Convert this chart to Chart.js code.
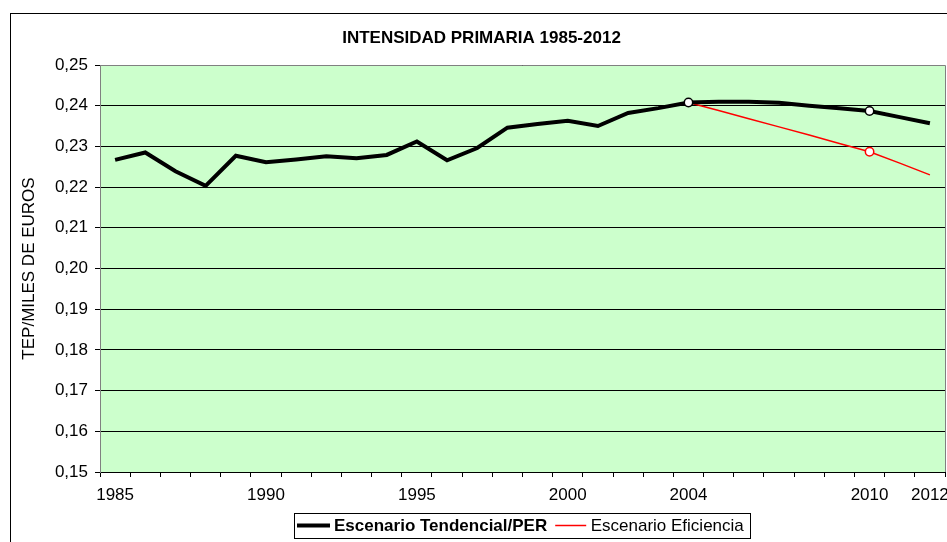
<!DOCTYPE html>
<html>
<head>
<meta charset="utf-8">
<title>Intensidad primaria 1985-2012</title>
<script src="https://cdn.jsdelivr.net/npm/chart.js@4.4.1/dist/chart.umd.min.js"></script>
<style>
  html, body { margin: 0; padding: 0; background: #fff; }
  #chart { display: block; }
</style>
</head>
<body>
<canvas id="chart" width="947" height="542"></canvas>
<script>
/* ---- data ---- */
var years = ["1985", "1986", "1987", "1988", "1989", "1990", "1991", "1992", "1993", "1994",
             "1995", "1996", "1997", "1998", "1999", "2000", "2001", "2002", "2003", "2004",
             "2005", "2006", "2007", "2008", "2009", "2010", "2011", "2012"];
var shownYears = ["1985", "1990", "1995", "2000", "2004", "2010", "2012"];

var tendencial = [0.2267, 0.2285, 0.2239, 0.2203, 0.2277, 0.2261, 0.2268, 0.2276, 0.2271, 0.2279,
                  0.2312, 0.2266, 0.2296, 0.2346, 0.2355, 0.2363, 0.2350, 0.2382, 0.2394, 0.2408,
                  0.2410, 0.2410, 0.2407, 0.2400, 0.2394, 0.2387, 0.2372, 0.2357];
var eficiencia = [null, null, null, null, null, null, null, null, null, null,
                  null, null, null, null, null, null, null, null, null, 0.2408,
                  0.2388, 0.2368, 0.2348, 0.2328, 0.2307, 0.2287, 0.2259, 0.2230];

var tendencialMarks = ["2004", "2010"];
var eficienciaMarks = ["2010"];

var yMin = 0.15, yMax = 0.25, yStep = 0.01;

var FONT = '"Liberation Sans", Arial, sans-serif';

var markAt = function (list) {
  return function (c) { return list.indexOf(years[c.dataIndex]) >= 0 ? 4.2 : 0; };
};

/* white page, outer chart frame, green plot area */
var framePlugin = {
  id: "frame",
  beforeDraw: function (chart) {
    var ctx = chart.ctx, a = chart.chartArea;
    ctx.save();
    ctx.fillStyle = "#fff";
    ctx.fillRect(0, 0, chart.width, chart.height);
    ctx.strokeStyle = "#000";
    ctx.lineWidth = 1;
    ctx.strokeRect(10.5, 13.5, chart.width + 20, chart.height + 20);
    ctx.fillStyle = "#ccffcc";
    ctx.fillRect(a.left, a.top, a.right - a.left, a.bottom - a.top);
    ctx.restore();
  },
  afterDraw: function (chart) {
    var ctx = chart.ctx, a = chart.chartArea;
    ctx.save();
    ctx.strokeStyle = "#808080";
    ctx.lineWidth = 1;
    ctx.beginPath();
    ctx.moveTo(Math.round(a.left), Math.round(a.top) + 0.5);
    ctx.lineTo(Math.round(a.right) + 0.5, Math.round(a.top) + 0.5);
    ctx.lineTo(Math.round(a.right) + 0.5, Math.round(a.bottom));
    ctx.stroke();
    ctx.restore();
  }
};

/* boxed legend under the axis (first entry bold, like the original) */
var legendPlugin = {
  id: "boxLegend",
  afterDraw: function (chart) {
    var ctx = chart.ctx, a = chart.chartArea;
    var ds = chart.data.datasets;
    var fonts = ["bold 17px " + FONT, "17px " + FONT];
    var samples = [33, 31];
    ctx.save();
    var widths = ds.map(function (d, i) { ctx.font = fonts[i]; return ctx.measureText(d.label).width; });
    var total = 3 + samples[0] + 4 + widths[0] + 8 + samples[1] + 4.5 + widths[1] + 6.5;
    var left = Math.round((a.left + a.right) / 2 - total / 2);
    var top = 513, h = 25, cy = top + h / 2;
    ctx.strokeStyle = "#000";
    ctx.lineWidth = 1;
    ctx.strokeRect(left + 0.5, top + 0.5, Math.round(total), h);
    var x = left + 3;
    ds.forEach(function (d, i) {
      if (i === 1) x += 8;
      ctx.beginPath();
      ctx.strokeStyle = d.borderColor;
      ctx.lineWidth = d.borderWidth;
      ctx.moveTo(x, cy);
      ctx.lineTo(x + samples[i], cy);
      ctx.stroke();
      x += samples[i] + (i === 0 ? 4 : 4.5);
      ctx.font = fonts[i];
      ctx.fillStyle = "#000";
      ctx.textBaseline = "middle";
      ctx.textAlign = "left";
      ctx.fillText(d.label, x, cy + 1);
      x += widths[i];
    });
    ctx.restore();
  }
};

Chart.defaults.color = "#000";
Chart.defaults.font.family = FONT;
Chart.defaults.font.size = 17;

new Chart(document.getElementById("chart"), {
  type: "line",
  data: {
    labels: years,
    datasets: [{
      label: "Escenario Tendencial/PER",
      data: tendencial,
      borderColor: "#000",
      borderWidth: 4,
      pointRadius: markAt(tendencialMarks),
      pointBackgroundColor: "#fff",
      pointBorderColor: "#000",
      pointBorderWidth: 1.5,
      tension: 0
    }, {
      label: "Escenario Eficiencia",
      data: eficiencia,
      borderColor: "#ff0000",
      borderWidth: 1.5,
      pointRadius: markAt(eficienciaMarks),
      pointBackgroundColor: "#fff",
      pointBorderColor: "#ff0000",
      pointBorderWidth: 1.5,
      tension: 0
    }]
  },
  options: {
    responsive: false,
    devicePixelRatio: 1,
    animation: false,
    layout: { padding: { left: 18, right: 2, top: 0, bottom: 0 } },
    plugins: {
      legend: { display: false },
      tooltip: { enabled: false },
      title: {
        display: true,
        text: "INTENSIDAD PRIMARIA 1985-2012",
        color: "#000",
        font: { size: 17, weight: "bold", family: FONT },
        padding: { top: 28.6, bottom: 16 }
      }
    },
    scales: {
      x: {
        type: "category",
        offset: true,
        grid: { offset: true, drawOnChartArea: false, drawTicks: true, tickLength: 5, color: "#000" },
        border: { color: "#000", width: 1 },
        ticks: {
          autoSkip: false,
          maxRotation: 0,
          padding: 8,
          color: "#000",
          callback: function (v, i) { return shownYears.indexOf(years[i]) >= 0 ? years[i] : ""; }
        },
        afterFit: function (s) { s.height = 70; s.paddingLeft = 0; s.paddingRight = 0; }
      },
      y: {
        min: yMin,
        max: yMax,
        grid: { color: "#000", lineWidth: 1, tickLength: 5 },
        border: { color: "#808080", width: 1 },
        ticks: {
          stepSize: yStep,
          padding: 7,
          color: "#000",
          callback: function (v) { return v.toFixed(2).replace(".", ","); }
        },
        title: {
          display: true,
          text: "TEP/MILES DE EUROS",
          color: "#000",
          font: { size: 17, family: FONT },
          padding: { top: 1, bottom: 0 }
        },
        afterFit: function (s) { s.width = 82; }
      }
    }
  },
  plugins: [framePlugin, legendPlugin]
});
</script>
</body>
</html>
